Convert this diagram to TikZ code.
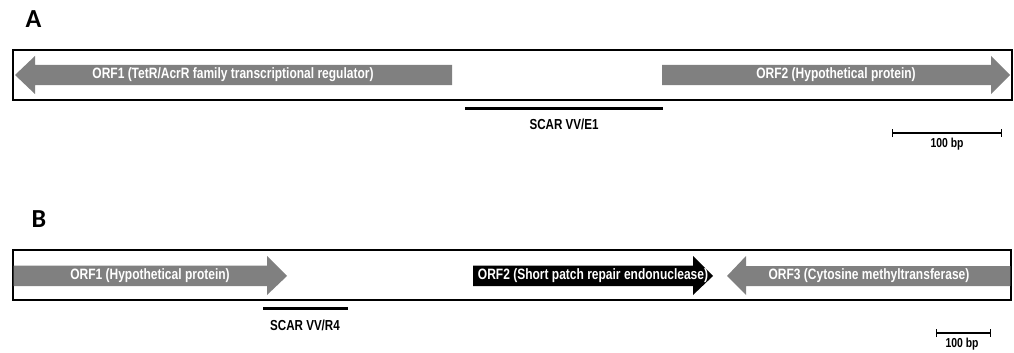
\documentclass[tikz,border=0pt]{standalone}
\usepackage{fontspec}
\usetikzlibrary{arrows.meta}
\setmainfont{Liberation Sans}
\newfontfamily\narrowfont[FakeStretch=0.8]{Liberation Sans}
\newfontfamily\panelfont{Carlito}
\definecolor{orfgray}{HTML}{808080}
\tikzset{
  track/.style={draw=black, line width=1.2pt, fill=white},
  orfgrey/.style={fill=orfgray, draw=none},
  orfblack/.style={fill=black, draw=none},
  orftext/.style={text=white, font=\narrowfont\bfseries\fontsize{15}{17}\selectfont, inner sep=0pt},
  lbltext/.style={text=black, font=\narrowfont\bfseries\fontsize{14.5}{17}\selectfont, inner sep=0pt},
  bptext/.style={text=black, font=\narrowfont\bfseries\fontsize{13}{15}\selectfont, inner sep=0pt},
  paneltext/.style={font=\panelfont\bfseries\fontsize{26}{30}\selectfont, inner sep=0pt},
  scarline/.style={line width=3pt, draw=black},
  scalebar/.style={line width=1.4pt, draw=black, {Bar[width=8pt]}-{Bar[width=8pt]}}
}
\begin{document}
\begin{tikzpicture}[x=1pt, y=-1pt]
\useasboundingbox[fill=white] (0,0) rectangle (1014,353);
% ---------- Panel A ----------
\node[paneltext] (pA) at (33.5,19.5) {A};
\draw[track] (13,50) rectangle (1012,100);
% ORF1 (leftward)
\fill[orfgrey] (452,65) -- (35,65) -- (35,56) -- (15,75) -- (35,94) -- (35,85) -- (452,85) -- cycle;
\node[orftext] (a1) at (233,75) {ORF1 (TetR/AcrR family transcriptional regulator)};
% ORF2 (rightward)
\fill[orfgrey] (662,65) -- (991,65) -- (991,56) -- (1010,75) -- (991,94) -- (991,85) -- (662,85) -- cycle;
\node[orftext] (a2) at (836,75) {ORF2 (Hypothetical protein)};
% SCAR
\coordinate (sa1) at (465,108);
\coordinate (sa2) at (663,108);
\draw[scarline] (sa1) -- (sa2);
\node[lbltext] (la) at (564,124) {SCAR VV/E1};
% scale
\coordinate (ba1) at (892,133);
\coordinate (ba2) at (1002,133);
\draw[scalebar] (ba1) -- (ba2);
\node[bptext] (bpa) at (947,144) {100 bp};
% ---------- Panel B ----------
\node[paneltext] (pB) at (39,219.5) {B};
\draw[track] (13,250) rectangle (1011,300);
% ORF1 (rightward)
\fill[orfgrey] (13.6,265.5) -- (267,265.5) -- (267,256) -- (287,276) -- (267,295) -- (267,286) -- (13.6,286) -- cycle;
\node[orftext] (b1) at (150,276) {ORF1 (Hypothetical protein)};
% ORF2 (rightward, black)
\fill[orfblack] (473,265.5) -- (693,265.5) -- (693,256) -- (713,276) -- (693,295) -- (693,286) -- (473,286) -- cycle;
\node[orftext] (b2) at (593,276) {ORF2 (Short patch repair endonuclease)};
% ORF3 (leftward)
\fill[orfgrey] (1010.4,266) -- (746,266) -- (746,256) -- (727,276) -- (746,295) -- (746,286) -- (1010.4,286) -- cycle;
\node[orftext] (b3) at (869,276) {ORF3 (Cytosine methyltransferase)};
% SCAR
\coordinate (sb1) at (263,308);
\coordinate (sb2) at (348,308);
\draw[scarline] (sb1) -- (sb2);
\node[lbltext] (lb) at (305,325) {SCAR VV/R4};
% scale
\coordinate (bb1) at (936,333);
\coordinate (bb2) at (991,333);
\draw[scalebar] (bb1) -- (bb2);
\node[bptext] (bpb) at (962,344) {100 bp};
\end{tikzpicture}
\end{document}
